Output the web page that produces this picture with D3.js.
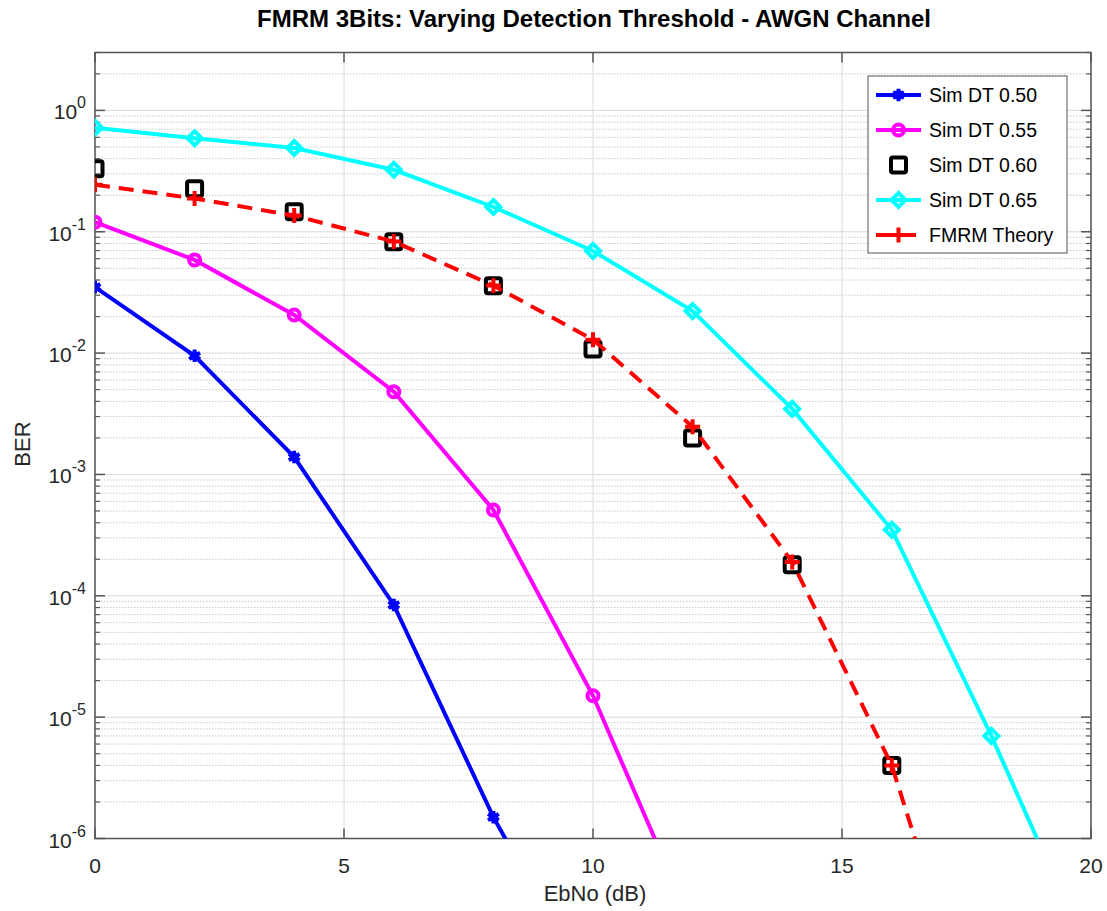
<!DOCTYPE html>
<html>
<head>
<meta charset="utf-8">
<script src="https://cdn.jsdelivr.net/npm/d3@7"></script>
<style>
  body { margin: 0; background: #fff; }
  svg { font-family: "Liberation Sans", Arial, sans-serif; }
</style>
</head>
<body>
<svg id="chart" width="1107" height="911"></svg>
<script>
// data
const ebno = [0, 2, 4, 6, 8, 10, 12, 14, 16, 18, 20];
const dt050 = [0.035, 0.0095, 0.00139, 8.4e-5, 1.5e-6, 5e-8];
const dt055 = [0.12, 0.0586, 0.0206, 0.0048, 5.1e-4, 1.5e-5, 1.9e-7];
const dt060 = [0.33, 0.226, 0.146, 0.0826, 0.0359, 0.0108, 0.002, 1.8e-4, 4.0e-6];
const dt065 = [0.72, 0.59, 0.49, 0.324, 0.16, 0.0695, 0.0222, 3.47e-3, 3.5e-4, 7e-6, 1e-7];
const theory = [0.244, 0.188, 0.136, 0.083, 0.036, 0.0129, 2.47e-3, 1.9e-4, 4e-6, 1e-8];
const xTicks = [0, 5, 10, 15, 20];
const yDecades = [-6, -5, -4, -3, -2, -1, 0];

const svg = d3.select("#chart");
const mLeft = 95, mRight = 1091, mTop = 52.5, mBottom = 838.5;

const x = d3.scaleLinear().domain([0, 20]).range([mLeft, mRight]);
const y = d3.scaleLog().domain([1e-6, 3]).range([mBottom, mTop]);

// clip
svg.append("defs").append("clipPath").attr("id", "clip")
  .append("rect").attr("x", mLeft).attr("y", mTop)
  .attr("width", mRight - mLeft).attr("height", mBottom - mTop);

const grid = svg.append("g");
// minor horizontal grid
const minor = [];
yDecades.forEach(d => {
  for (let k = 2; k <= 9; k++) {
    const v = k * Math.pow(10, d);
    if (v <= 3) minor.push(v);
  }
});
grid.selectAll(".ymin").data(minor).enter().append("line")
  .attr("x1", mLeft).attr("x2", mRight)
  .attr("y1", d => y(d)).attr("y2", d => y(d))
  .attr("stroke", "#c8c8c8").attr("stroke-width", 1)
  .attr("stroke-dasharray", "1.5,1.5");
grid.selectAll(".ymaj").data(yDecades).enter().append("line")
  .attr("x1", mLeft).attr("x2", mRight)
  .attr("y1", d => y(Math.pow(10, d))).attr("y2", d => y(Math.pow(10, d)))
  .attr("stroke", "#dadada").attr("stroke-width", 1);
grid.selectAll(".xmaj").data(xTicks).enter().append("line")
  .attr("x1", d => x(d)).attr("x2", d => x(d))
  .attr("y1", mTop).attr("y2", mBottom)
  .attr("stroke", "#dadada").attr("stroke-width", 1);

// axis box and ticks
const ax = svg.append("g").attr("stroke", "#555");
ax.append("rect").attr("x", mLeft).attr("y", mTop)
  .attr("width", mRight - mLeft).attr("height", mBottom - mTop)
  .attr("fill", "none").attr("stroke-width", 1.5);
xTicks.forEach(t => {
  ax.append("line").attr("x1", x(t)).attr("x2", x(t)).attr("y1", mBottom).attr("y2", mBottom - 10).attr("stroke-width", 1.5);
  ax.append("line").attr("x1", x(t)).attr("x2", x(t)).attr("y1", mTop).attr("y2", mTop + 10).attr("stroke-width", 1.5);
});
yDecades.forEach(d => {
  const yy = y(Math.pow(10, d));
  ax.append("line").attr("x1", mLeft).attr("x2", mLeft + 10).attr("y1", yy).attr("y2", yy).attr("stroke-width", 1.5);
  ax.append("line").attr("x1", mRight).attr("x2", mRight - 10).attr("y1", yy).attr("y2", yy).attr("stroke-width", 1.5);
});
minor.forEach(v => {
  ax.append("line").attr("x1", mLeft).attr("x2", mLeft + 5).attr("y1", y(v)).attr("y2", y(v)).attr("stroke-width", 1.2);
  ax.append("line").attr("x1", mRight).attr("x2", mRight - 5).attr("y1", y(v)).attr("y2", y(v)).attr("stroke-width", 1.2);
});

// tick labels
svg.selectAll(".xt").data(xTicks).enter().append("text")
  .attr("x", d => x(d)).attr("y", 873)
  .attr("text-anchor", "middle").attr("font-size", 21).attr("fill", "#262626")
  .text(d => d);
const yl = svg.selectAll(".yt").data(yDecades).enter().append("text")
  .attr("x", 86).attr("y", d => y(Math.pow(10, d)) + 9)
  .attr("text-anchor", "end").attr("font-size", 21).attr("fill", "#262626");
yl.append("tspan").text("10");
yl.append("tspan").attr("dy", -11).attr("font-size", 16).text(d => d);

// labels
svg.append("text").attr("x", 594).attr("y", 27).attr("text-anchor", "middle")
  .attr("font-size", 24).attr("font-weight", "bold").attr("fill", "#000")
  .text("FMRM 3Bits: Varying Detection Threshold - AWGN Channel");
svg.append("text").attr("x", 595).attr("y", 901).attr("text-anchor", "middle")
  .attr("font-size", 22).attr("fill", "#262626").text("EbNo (dB)");
svg.append("text").attr("transform", "translate(30,444) rotate(-90)")
  .attr("text-anchor", "middle").attr("font-size", 22).attr("fill", "#262626").text("BER");

// series
const series = [
  { name: "Sim DT 0.50", values: dt050, color: "#0000ff", marker: "star", line: true, dash: null },
  { name: "Sim DT 0.55", values: dt055, color: "#ff00ff", marker: "circle", line: true, dash: null },
  { name: "Sim DT 0.60", values: dt060, color: "#000000", marker: "square", line: false, dash: null },
  { name: "Sim DT 0.65", values: dt065, color: "#00ffff", marker: "diamond", line: true, dash: null },
  { name: "FMRM Theory", values: theory, color: "#ff0000", marker: "plus", line: true, dash: "15,9" }
];

const lineGen = d3.line().x(d => x(d[0])).y(d => y(d[1]));
const plot = svg.append("g").attr("clip-path", "url(#clip)");

function drawMarker(g, type, color) {
  if (type === "star") {
    g.append("path").attr("d", d3.symbol().type(d3.symbolAsterisk).size(110)())
      .attr("fill", "none").attr("stroke", color).attr("stroke-width", 4);
    g.append("circle").attr("r", 4.5).attr("fill", color);
  } else if (type === "circle") {
    g.append("circle").attr("r", 5.5).attr("fill", "none").attr("stroke", color).attr("stroke-width", 4);
  } else if (type === "diamond") {
    g.append("path").attr("d", "M0,-7L7,0L0,7L-7,0Z").attr("fill", "none").attr("stroke", color).attr("stroke-width", 4);
  } else if (type === "square") {
    g.append("rect").attr("x", -7.5).attr("y", -7.5).attr("width", 15).attr("height", 15).attr("rx", 2)
      .attr("fill", "none").attr("stroke", color).attr("stroke-width", 4);
  } else if (type === "plus") {
    g.append("path").attr("d", "M-7.5,0H7.5M0,-7.5V7.5").attr("stroke", color).attr("stroke-width", 4);
  }
}

series.forEach(s => {
  const pts = s.values.map((v, i) => [ebno[i], v]);
  if (s.line) {
    plot.append("path").datum(pts).attr("d", lineGen)
      .attr("fill", "none").attr("stroke", s.color).attr("stroke-width", 4)
      .attr("stroke-dasharray", s.dash);
  }
  pts.filter(p => p[1] >= 1e-6).forEach(p => {
    drawMarker(plot.append("g").attr("transform", `translate(${x(p[0])},${y(p[1])})`), s.marker, s.color);
  });
});

// legend
const lg = svg.append("g");
lg.append("rect").attr("x", 868).attr("y", 76).attr("width", 199).attr("height", 177)
  .attr("fill", "#fff").attr("stroke", "#555").attr("stroke-width", 1);
series.forEach((s, i) => {
  const yy = 95 + i * 35;
  if (s.line) {
    lg.append("line").attr("x1", 876).attr("x2", 921).attr("y1", yy).attr("y2", yy)
      .attr("stroke", s.color).attr("stroke-width", 4).attr("stroke-dasharray", s.dash ? "22,6,12" : null);
  }
  drawMarker(lg.append("g").attr("transform", `translate(898.5,${yy})`), s.marker, s.color);
  lg.append("text").attr("x", 929).attr("y", yy + 7).attr("font-size", 19.5).attr("fill", "#000").text(s.name);
});
</script>
</body>
</html>
